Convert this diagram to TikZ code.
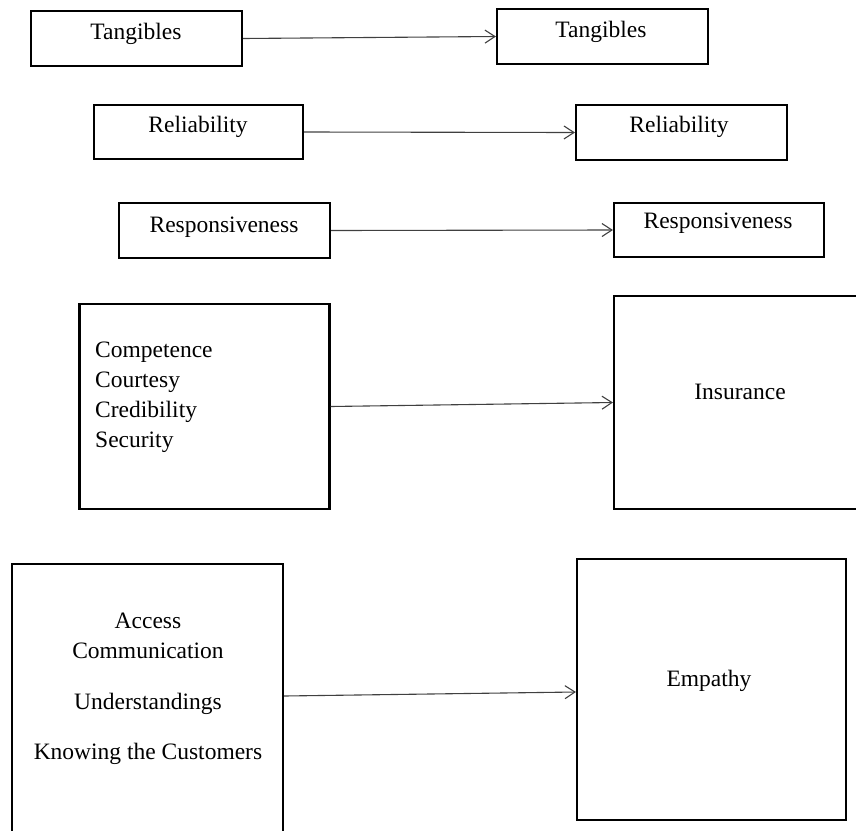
\documentclass[tikz,border=0pt]{standalone}
\usepackage{fontspec}
\setmainfont{Liberation Serif}
\usetikzlibrary{arrows.meta}
\begin{document}
\begin{tikzpicture}[x=1pt,y=-1pt,
  box/.style={draw=black,line width=2.1pt,rectangle,inner sep=0pt},
  lbl/.style={font=\fontsize{23.5}{30}\selectfont,inner sep=0pt},
  conn/.style={draw=black!75,line width=1.1pt,-{Straight Barb[length=10pt,width=13pt,line width=1.1pt]}}]
\useasboundingbox (0,0) rectangle (856,830);
\clip (0,0) rectangle (856,830);
% boxes
\node[box,minimum width=211pt,minimum height=55pt] (tl) at (136.5,38.5) {};
\node[box,minimum width=211pt,minimum height=55pt] (tr) at (602.5,36.5) {};
\node[box,minimum width=209pt,minimum height=54pt] (rl) at (198.5,132) {};
\node[box,minimum width=211pt,minimum height=55pt] (rr) at (681.5,132.5) {};
\node[box,minimum width=211pt,minimum height=55pt] (sl) at (224.5,230.5) {};
\node[box,minimum width=210pt,minimum height=54pt] (sr) at (719,230) {};
\node[box,minimum width=250pt,minimum height=205pt] (cl) at (204.5,406.5) {};
\node[box,minimum width=260pt,minimum height=213pt] (ir) at (744,402.5) {};
\node[box,minimum width=271pt,minimum height=280pt] (al) at (147.5,704) {};
\node[box,minimum width=269pt,minimum height=261pt] (er) at (711.5,689.5) {};
% texts
\node[lbl] (ttl) at (136,34) {Tangibles};
\node[lbl] (ttr) at (601,32) {Tangibles};
\node[lbl] (trl) at (198,127) {Reliability};
\node[lbl] (trr) at (679,127) {Reliability};
\node[lbl] (tsl) at (224,227) {Responsiveness};
\node[lbl] (tsr) at (718,223) {Responsiveness};
\node[lbl,align=left,anchor=west] (tcl) at (95,397) {Competence\\Courtesy\\Credibility\\Security};
\node[lbl] (tir) at (740,392) {Insurance};
\node[lbl,align=center] (tal) at (148,689) {Access\\Communication\\[21pt]Understandings\\[20pt]Knowing the Customers};
\node[lbl] (ter) at (709,681) {Empathy};
% connectors
\draw[conn] (tl.east) -- (tr.west);
\draw[conn] (rl.east) -- (rr.west);
\draw[conn] (sl.east) -- (sr.west);
\draw[conn] (cl.east) -- (ir.west);
\draw[conn] (al.east |- 0,696) -- (er.west |- 0,692);
\end{tikzpicture}
\end{document}
